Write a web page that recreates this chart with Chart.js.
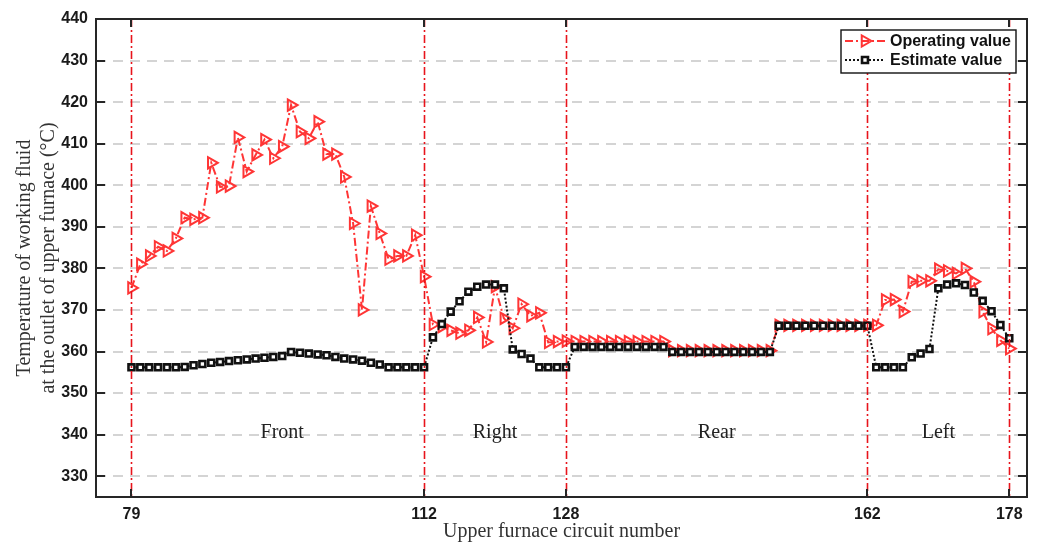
<!DOCTYPE html>
<html>
<head>
<meta charset="utf-8">
<title>Upper furnace outlet temperature</title>
<script src="https://cdn.jsdelivr.net/npm/chart.js@4.4.1/dist/chart.umd.min.js"></script>
<style>
  html, body { margin: 0; padding: 0; background: #fff; }
  #wrap { width: 1038px; height: 542px; }
</style>
</head>
<body>
<div id="wrap"><canvas id="tempChart" width="1038" height="542"></canvas></div>
<script>
// circuit numbers on the x axis
const circuits = [
  79, 80, 81, 82, 83, 84, 85, 86, 87, 88, 89, 90, 91, 92, 93, 94, 95, 96, 97, 98,
  99, 100, 101, 102, 103, 104, 105, 106, 107, 108, 109, 110, 111, 112, 113, 114, 115, 116, 117, 118,
  119, 120, 121, 122, 123, 124, 125, 126, 127, 128, 129, 130, 131, 132, 133, 134, 135, 136, 137, 138,
  139, 140, 141, 142, 143, 144, 145, 146, 147, 148, 149, 150, 151, 152, 153, 154, 155, 156, 157, 158,
  159, 160, 161, 162, 163, 164, 165, 166, 167, 168, 169, 170, 171, 172, 173, 174, 175, 176, 177, 178
];

// measured outlet temperature (°C)
const operatingValue = [
  375.3, 381.0, 383.0, 385.2, 384.2, 387.2, 392.2, 391.8, 392.2, 405.4,
  399.6, 399.8, 411.5, 403.3, 407.3, 411.0, 406.5, 409.3, 419.3, 412.9,
  411.3, 415.3, 407.5, 407.5, 402.0, 390.8, 370.0, 395.0, 388.4, 382.2,
  383.0, 383.0, 388.0, 378.0, 366.5, 366.0, 365.1, 364.4, 365.1, 368.2,
  362.3, 375.6, 368.0, 365.6, 371.4, 368.6, 369.3, 362.2, 362.4, 362.5,
  362.4, 362.4, 362.4, 362.4, 362.4, 362.4, 362.4, 362.4, 362.4, 362.4,
  362.4, 360.2, 360.2, 360.2, 360.2, 360.2, 360.2, 360.2, 360.2, 360.2,
  360.2, 360.2, 360.2, 366.3, 366.3, 366.3, 366.3, 366.3, 366.3, 366.3,
  366.3, 366.3, 366.3, 366.3, 366.3, 372.4, 372.5, 369.6, 376.8, 377.0,
  377.0, 379.8, 379.4, 378.8, 380.0, 376.8, 369.6, 365.5, 362.7, 360.7
];

// estimated outlet temperature (°C)
const estimateValue = [
  356.2, 356.2, 356.2, 356.2, 356.2, 356.2, 356.3, 356.7, 357.0, 357.3,
  357.5, 357.7, 357.9, 358.1, 358.3, 358.5, 358.7, 358.9, 359.9, 359.7,
  359.5, 359.3, 359.1, 358.7, 358.3, 358.1, 357.8, 357.3, 356.9, 356.2,
  356.2, 356.2, 356.2, 356.2, 363.4, 366.6, 369.6, 372.1, 374.4, 375.6,
  376.1, 376.1, 375.2, 360.5, 359.4, 358.3, 356.2, 356.2, 356.2, 356.2,
  361.1, 361.1, 361.1, 361.1, 361.1, 361.1, 361.1, 361.1, 361.1, 361.1,
  361.1, 359.9, 359.9, 359.9, 359.9, 359.9, 359.9, 359.9, 359.9, 359.9,
  359.9, 359.9, 359.9, 366.2, 366.2, 366.2, 366.2, 366.2, 366.2, 366.2,
  366.2, 366.2, 366.2, 366.2, 356.2, 356.2, 356.2, 356.2, 358.6, 359.5,
  360.6, 375.2, 376.1, 376.4, 376.0, 374.2, 372.2, 369.7, 366.4, 363.2
];

const xTickValues = [79, 112, 128, 162, 178];
const yTickValues = [330, 340, 350, 360, 370, 380, 390, 400, 410, 420, 430, 440];
const wallBoundaries = [79, 112, 128, 162, 178];
const wallNames = ["Front", "Right", "Rear", "Left"];
const wallLabelX = [96, 120, 145, 170];
const wallLabelY = 340.5;

const serif = '"Liberation Serif", "Times New Roman", serif';
const sans = '"Liberation Sans", Arial, sans-serif';
const opRed = '#ff3535';
const wallRed = '#e8141c';

const toPoints = (ys) => circuits.map((c, i) => ({ x: c, y: ys[i] }));

// everything matlab draws that chart.js does not: wall lines, frame, titles, legend
const figureDecor = {
  id: 'figureDecor',
  afterDatasetsDraw(chart) {
    const { ctx, chartArea, scales } = chart;
    ctx.save();
    ctx.strokeStyle = wallRed;
    ctx.lineWidth = 1.6;
    ctx.setLineDash([8, 3, 2, 3]);
    wallBoundaries.forEach((b) => {
      const px = Math.round(scales.x.getPixelForValue(b)) + 0.5;
      ctx.beginPath();
      ctx.moveTo(px, chartArea.top);
      ctx.lineTo(px, chartArea.bottom);
      ctx.stroke();
    });
    ctx.restore();
  },
  afterDraw(chart) {
    const { ctx, chartArea: a, scales } = chart;
    ctx.save();

    // wall names
    ctx.fillStyle = '#222';
    ctx.font = `20px ${serif}`;
    ctx.textAlign = 'center';
    ctx.textBaseline = 'middle';
    wallNames.forEach((name, i) => {
      ctx.fillText(name, scales.x.getPixelForValue(wallLabelX[i]), scales.y.getPixelForValue(wallLabelY));
    });

    // frame + inward ticks
    ctx.strokeStyle = '#262626';
    ctx.lineWidth = 2;
    ctx.setLineDash([]);
    ctx.strokeRect(a.left, a.top, a.right - a.left, a.bottom - a.top);
    ctx.beginPath();
    yTickValues.forEach((v) => {
      const py = Math.round(scales.y.getPixelForValue(v));
      ctx.moveTo(a.left, py); ctx.lineTo(a.left + 9, py);
      ctx.moveTo(a.right, py); ctx.lineTo(a.right - 9, py);
    });
    xTickValues.forEach((v) => {
      const px = Math.round(scales.x.getPixelForValue(v));
      ctx.moveTo(px, a.bottom); ctx.lineTo(px, a.bottom - 8);
      ctx.moveTo(px, a.top); ctx.lineTo(px, a.top + 8);
    });
    ctx.stroke();

    // axis titles
    ctx.fillStyle = '#333';
    ctx.font = `20px ${serif}`;
    ctx.fillText('Upper furnace circuit number', (a.left + a.right) / 2, 532);
    ctx.save();
    ctx.translate(25, (a.top + a.bottom) / 2);
    ctx.rotate(-Math.PI / 2);
    ctx.fillText('Temperature of working fluid', 0, 0);
    ctx.fillText('at the outlet of upper furnace (°C)', 0, 24);
    ctx.restore();

    // legend box
    const lx = 841, ly = 30, lw = 175, lh = 43;
    ctx.fillStyle = '#fff';
    ctx.fillRect(lx, ly, lw, lh);
    ctx.strokeStyle = '#111';
    ctx.lineWidth = 1.4;
    ctx.strokeRect(lx, ly, lw, lh);
    chart.data.datasets.slice().sort((p, q) => p.legendRank - q.legendRank).forEach((ds, i) => {
      const cy = ly + 11 + i * 19;
      ctx.strokeStyle = ds.borderColor;
      ctx.lineWidth = ds.borderWidth;
      ctx.setLineDash(ds.borderDash);
      ctx.beginPath();
      ctx.moveTo(lx + 4, cy); ctx.lineTo(lx + 44, cy);
      ctx.stroke();
      ctx.setLineDash([]);
      ctx.fillStyle = ds.pointBackgroundColor;
      ctx.strokeStyle = ds.pointBorderColor;
      ctx.lineWidth = ds.pointBorderWidth;
      Chart.helpers.drawPoint(ctx, {
        pointStyle: ds.pointStyle, rotation: ds.pointRotation,
        radius: ds.pointRadius, borderWidth: ds.pointBorderWidth
      }, lx + 24, cy);
      ctx.fillStyle = '#111';
      ctx.font = `bold 16px ${sans}`;
      ctx.textAlign = 'left';
      ctx.fillText(ds.label, lx + 49, cy + 1);
    });
    ctx.restore();
  }
};

new Chart(document.getElementById('tempChart'), {
  type: 'line',
  data: {
    datasets: [
      {
        label: 'Operating value',
        legendRank: 0,
        order: 1,
        data: toPoints(operatingValue),
        borderColor: opRed,
        borderWidth: 2,
        borderDash: [8, 3, 2, 3],
        pointStyle: 'triangle',
        pointRotation: 90,
        pointRadius: 6.5,
        pointBorderWidth: 2,
        pointBorderColor: opRed,
        pointBackgroundColor: 'rgba(255,255,255,0)',
        tension: 0
      },
      {
        label: 'Estimate value',
        legendRank: 1,
        order: 0,
        data: toPoints(estimateValue),
        borderColor: '#111',
        borderWidth: 2,
        borderDash: [2, 2],
        pointStyle: 'rect',
        pointRotation: 0,
        pointRadius: 4.2,
        pointBorderWidth: 2.6,
        pointBorderColor: '#111',
        pointBackgroundColor: '#fff',
        tension: 0
      }
    ]
  },
  options: {
    responsive: false,
    animation: false,
    layout: { padding: { top: 19, right: 11, left: 0, bottom: 0 } },
    plugins: { legend: { display: false }, tooltip: { enabled: false } },
    scales: {
      x: {
        type: 'linear',
        min: 75,
        max: 180,
        afterBuildTicks: (s) => { s.ticks = xTickValues.map((v) => ({ value: v })); },
        afterFit: (s) => { s.height = 45; },
        grid: { display: false, drawTicks: false },
        border: { display: false },
        ticks: {
          font: { family: sans, size: 16, weight: 'bold' },
          color: '#1a1a1a',
          padding: 8,
          maxRotation: 0,
          autoSkip: false
        }
      },
      y: {
        min: 325,
        max: 440,
        afterBuildTicks: (s) => { s.ticks = yTickValues.map((v) => ({ value: v })); },
        afterFit: (s) => { s.width = 96; },
        grid: { color: '#d4d4d4', lineWidth: 2, drawTicks: false },
        border: { display: false, dash: [10, 7] },
        ticks: {
          font: { family: sans, size: 16, weight: 'bold' },
          color: '#1a1a1a',
          padding: 8
        }
      }
    }
  },
  plugins: [figureDecor]
});
</script>
</body>
</html>
